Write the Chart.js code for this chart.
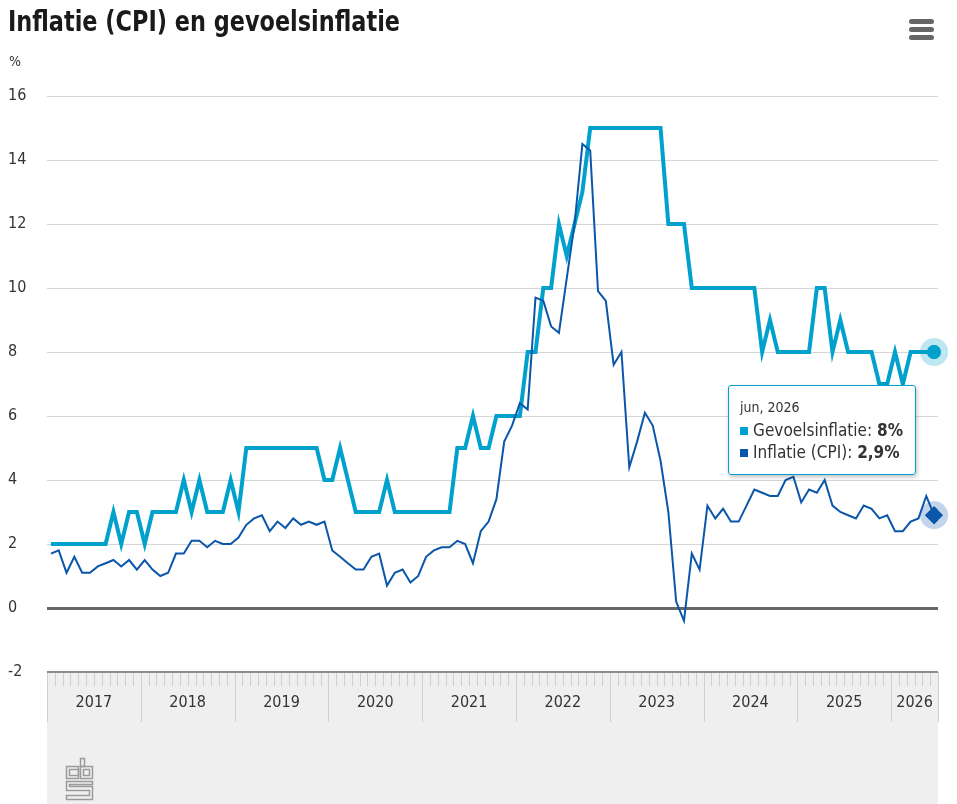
<!DOCTYPE html>
<html>
<head>
<meta charset="utf-8">
<script src="https://cdn.jsdelivr.net/npm/chart.js@4.4.1/dist/chart.umd.min.js"></script>
<style>
  html, body { margin: 0; padding: 0; background: #fff; }
  #wrap { position: relative; width: 957px; height: 804px; }
  #tip {
    position: absolute; opacity: 0; pointer-events: none; white-space: nowrap;
    background: rgba(255,255,255,0.96); border: 1px solid #00a1cd; border-radius: 3px;
    box-shadow: 1px 2px 4px rgba(0,0,0,0.25);
    padding: 12px 12px 11px 11px; color: #333;
    font-family: "Liberation Sans Narrow", "DejaVu Sans Condensed", sans-serif;
  }
  #tip .titel { font-size: 14px; line-height: 18px; margin-bottom: 3px; }
  #tip .regel { font-size: 17px; line-height: 22px; }
  #tip .blok { display: inline-block; width: 8px; height: 8px; margin-right: 5px; vertical-align: 1px; }
</style>
</head>
<body>
<div id="wrap">
  <canvas id="grafiek" width="957" height="804"></canvas>
  <div id="tip"></div>
</div>
<script>
// Data: maandcijfers jan 2017 t/m jun 2026 (jaarmutatie in %)
const jaren = ['2017','2018','2019','2020','2021','2022','2023','2024','2025','2026'];
const maandNamen = ['jan','feb','mrt','apr','mei','jun','jul','aug','sep','okt','nov','dec'];

const gevoelsinflatie = [
  2,2,2,2,2,2,2,2,3,2,3,3,
  2,3,3,3,3,4,3,4,3,3,3,4,
  3,5,5,5,5,5,5,5,5,5,5,4,
  4,5,4,3,3,3,3,4,3,3,3,3,
  3,3,3,3,5,5,6,5,5,6,6,6,
  6,8,8,10,10,12,11,12,13,15,15,15,
  15,15,15,15,15,15,15,12,12,12,10,10,
  10,10,10,10,10,10,10,8,9,8,8,8,
  8,8,10,10,8,9,8,8,8,8,7,7,
  8,7,8,8,8,8
];

const inflatieCPI = [
  1.7,1.8,1.1,1.6,1.1,1.1,1.3,1.4,1.5,1.3,1.5,1.2,
  1.5,1.2,1.0,1.1,1.7,1.7,2.1,2.1,1.9,2.1,2.0,2.0,
  2.2,2.6,2.8,2.9,2.4,2.7,2.5,2.8,2.6,2.7,2.6,2.7,
  1.8,1.6,1.4,1.2,1.2,1.6,1.7,0.7,1.1,1.2,0.8,1.0,
  1.6,1.8,1.9,1.9,2.1,2.0,1.4,2.4,2.7,3.4,5.2,5.7,
  6.4,6.2,9.7,9.6,8.8,8.6,10.3,12.0,14.5,14.3,9.9,9.6,
  7.6,8.0,4.4,5.2,6.1,5.7,4.6,3.0,0.2,-0.4,1.7,1.2,
  3.2,2.8,3.1,2.7,2.7,3.2,3.7,3.6,3.5,3.5,4.0,4.1,
  3.3,3.7,3.6,4.0,3.2,3.0,2.9,2.8,3.2,3.1,2.8,2.9,
  2.4,2.4,2.7,2.8,3.5,2.9
];

const yMin = -2, yMax = 16, yStap = 2;

const kleurGevoel = '#00a1cd';
const kleurCPI = '#0a56ab';
const lettertype = '"Liberation Sans Narrow", "DejaVu Sans Condensed", sans-serif';

// maand i ligt midden in de maand: x = i + 0.5
const nMaanden = inflatieCPI.length;
const puntenGevoel = gevoelsinflatie.map((v, i) => ({ x: i + 0.5, y: v }));
const puntenCPI = inflatieCPI.map((v, i) => ({ x: i + 0.5, y: v }));

// jaarlabels in het midden van elk (deel)jaar
const jaarMidden = jaren.map((j, k) => (k * 12 + Math.min(k * 12 + 12, nMaanden)) / 2);

function maandLabel(i) {
  return maandNamen[i % 12] + ', ' + jaren[Math.floor(i / 12)];
}
function komma(v) {
  return String(v).replace('.', ',');
}

// HTML tooltip zodat de waarde vet kan
function tooltipHtml(context) {
  const tip = document.getElementById('tip');
  const model = context.tooltip;
  if (!model || model.opacity === 0 || !model.dataPoints || !model.dataPoints.length) {
    tip.style.opacity = 0;
    return;
  }
  const items = model.dataPoints.slice().sort((a, b) => a.datasetIndex - b.datasetIndex);
  let html = '<div class="titel">' + maandLabel(items[0].dataIndex) + '</div>';
  items.forEach(it => {
    const ds = it.dataset;
    html += '<div class="regel"><span class="blok" style="background:' + ds.borderColor + '"></span>' +
      ds.label + ': <b>' + komma(it.raw.y) + '%</b></div>';
  });
  tip.innerHTML = html;
  tip.style.opacity = 1;
  tip.style.left = (model.caretX - 18 - tip.offsetWidth) + 'px';
  tip.style.top = (model.caretY - tip.offsetHeight / 2 - 4) + 'px';
}

// titel, %-teken, menu-icoon, grijze band met jaarverdeling, logo
const decor = {
  id: 'decor',
  beforeDraw(chart) {
    const ctx = chart.ctx;
    const ca = chart.chartArea;
    const xs = chart.scales.x;
    ctx.save();
    ctx.fillStyle = '#efefef';
    ctx.fillRect(ca.left, ca.bottom, ca.right - ca.left, chart.height - ca.bottom);
    // maandstreepjes
    ctx.strokeStyle = '#cfcfcf';
    ctx.lineWidth = 1;
    for (let m = 0; m <= nMaanden; m++) {
      const x = Math.round(xs.getPixelForValue(m)) + 0.5;
      const jaarGrens = (m % 12 === 0) || m === nMaanden;
      ctx.beginPath();
      ctx.moveTo(x, ca.bottom);
      ctx.lineTo(x, ca.bottom + (jaarGrens ? 50 : 14));
      ctx.stroke();
    }
    ctx.restore();
  },
  afterDatasetsDraw(chart) {
    // halo rond actieve punten
    const ctx = chart.ctx;
    const actief = chart.getActiveElements();
    ctx.save();
    actief.forEach(a => {
      const kleur = a.datasetIndex === 0 ? 'rgba(0,161,205,0.25)' : 'rgba(10,86,171,0.25)';
      ctx.beginPath();
      ctx.arc(a.element.x, a.element.y, 14, 0, Math.PI * 2);
      ctx.fillStyle = kleur;
      ctx.fill();
      a.element.draw(ctx, chart.chartArea);
    });
    ctx.restore();
  },
  afterDraw(chart) {
    const ctx = chart.ctx;
    ctx.save();
    // titel, horizontaal passend gemaakt op de breedte van het origineel
    const titel = 'Inflatie (CPI) en gevoelsinflatie';
    ctx.fillStyle = '#1a1a1a';
    ctx.font = 'bold 29px ' + lettertype;
    ctx.textBaseline = 'alphabetic';
    const b = ctx.measureText(titel).width;
    ctx.save();
    ctx.translate(8, 31);
    ctx.scale(Math.min(1, 392 / b), 1);
    ctx.fillText(titel, 0, 0);
    ctx.restore();
    ctx.fillStyle = '#333';
    ctx.font = '14px ' + lettertype;
    ctx.textBaseline = 'middle';
    ctx.fillText('%', 9, 62);
    // menu-icoon
    ctx.fillStyle = '#666';
    [19, 27, 35].forEach(y => {
      ctx.beginPath();
      ctx.roundRect(909, y, 25, 5, 2.5);
      ctx.fill();
    });
    // eenvoudig cbs-logo
    ctx.strokeStyle = '#9a9a9a';
    ctx.lineWidth = 1.5;
    ctx.strokeRect(66.5, 766.5, 12, 12);
    ctx.strokeRect(80.5, 766.5, 12, 12);
    ctx.strokeRect(80.5, 758.5, 4, 8);
    ctx.strokeRect(69.5, 769.5, 9, 6);
    ctx.strokeRect(83.5, 769.5, 6, 6);
    ctx.beginPath();
    ctx.moveTo(92.5, 781.5); ctx.lineTo(66.5, 781.5); ctx.lineTo(66.5, 790.5);
    ctx.lineTo(89.5, 790.5); ctx.lineTo(89.5, 795.5); ctx.lineTo(66.5, 795.5);
    ctx.lineTo(66.5, 799.5); ctx.lineTo(92.5, 799.5); ctx.lineTo(92.5, 786.5);
    ctx.lineTo(69.5, 786.5); ctx.lineTo(69.5, 784.5); ctx.lineTo(92.5, 784.5); ctx.closePath();
    ctx.stroke();
    ctx.restore();
  }
};

const grafiek = new Chart(document.getElementById('grafiek'), {
  type: 'line',
  data: {
    datasets: [
      {
        label: 'Gevoelsinflatie',
        data: puntenGevoel,
        borderColor: kleurGevoel,
        backgroundColor: kleurGevoel,
        borderWidth: 4,
        pointRadius: 0,
        pointHoverRadius: 7,
        pointHoverBorderWidth: 0,
        pointHoverBackgroundColor: kleurGevoel,
        tension: 0,
        order: 2
      },
      {
        label: 'Inflatie (CPI)',
        data: puntenCPI,
        borderColor: kleurCPI,
        backgroundColor: kleurCPI,
        borderWidth: 2,
        pointRadius: 0,
        pointStyle: 'rectRot',
        pointHoverRadius: 9,
        pointHoverBorderWidth: 0,
        pointHoverBackgroundColor: kleurCPI,
        tension: 0,
        order: 1
      }
    ]
  },
  options: {
    responsive: false,
    animation: false,
    layout: { padding: { top: 96, left: 8, right: 19, bottom: 0 } },
    interaction: { mode: 'index', intersect: false },
    plugins: {
      legend: { display: false },
      title: { display: false },
      tooltip: { enabled: false, position: 'average', external: tooltipHtml }
    },
    scales: {
      x: {
        type: 'linear',
        min: 0,
        max: nMaanden,
        afterBuildTicks: (s) => { s.ticks = jaarMidden.map(v => ({ value: v })); },
        afterFit: (s) => { s.height = 804 - 672; },
        grid: { display: false, drawTicks: false },
        border: { display: false },
        ticks: {
          autoSkip: false,
          maxRotation: 0,
          padding: 21,
          color: '#333',
          font: { family: lettertype, size: 16 },
          callback: (v, i) => jaren[i]
        }
      },
      y: {
        min: yMin,
        max: yMax,
        afterFit: (s) => { s.width = 39; },
        border: { display: false },
        grid: {
          drawTicks: false,
          color: (c) => c.tick.value === 0 ? '#666' : (c.tick.value === yMin ? '#8c8c8c' : '#d6d6d6'),
          lineWidth: (c) => c.tick.value === 0 ? 3 : (c.tick.value === yMin ? 2 : 1)
        },
        ticks: {
          stepSize: yStap,
          crossAlign: 'far',
          padding: 0,
          color: '#333',
          font: { family: lettertype, size: 16 }
        }
      }
    }
  },
  plugins: [decor]
});

const laatste = nMaanden - 1;
const actief = [{ datasetIndex: 0, index: laatste }, { datasetIndex: 1, index: laatste }];
grafiek.setActiveElements(actief);
grafiek.tooltip.setActiveElements(actief, { x: 934, y: 433 });
grafiek.update();
</script>
</body>
</html>
